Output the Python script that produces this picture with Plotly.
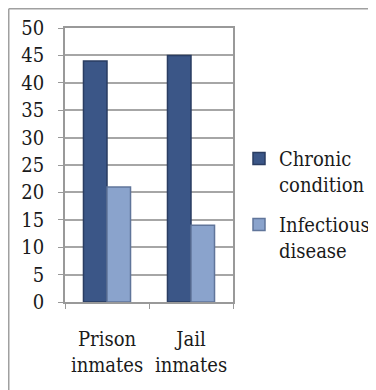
import plotly.graph_objects as go

categories = ["Prison<br>inmates", "Jail<br>inmates"]
chronic = [44, 45]
infectious = [21, 14]
series_names = ["Chronic<br>condition", "Infectious<br>disease"]
y_ticks = list(range(0, 51, 5))

# page has an 8px body margin; work in figure coordinates (reference - 8)
W, H = 376, 390
L, T = 57, 20
PX1, PY1 = 225, 294
R, B = W - PX1, H - PY1
pw, ph = PX1 - L, PY1 - T

SERIF = "DejaVu Serif Condensed, DejaVu Serif, serif"

fig = go.Figure()
fig.add_trace(go.Bar(x=categories, y=chronic, name=series_names[0], legendgroup="a",
                     marker=dict(color="#3B5687", line=dict(color="#2A3D62", width=1.5))))
fig.add_trace(go.Bar(x=categories, y=infectious, name=series_names[1], legendgroup="b",
                     marker=dict(color="#8AA3CC", line=dict(color="#60759A", width=1.5))))

fig.update_layout(
    width=W, height=H,
    margin=dict(l=L, r=R, t=T, b=B, autoexpand=False),
    paper_bgcolor="white", plot_bgcolor="white",
    font=dict(family=SERIF, size=20, color="#1a1a1a"),
    barmode="group", bargap=0.44, bargroupgap=0,
    showlegend=True,
    legend=dict(x=(231 - L) / pw, y=(PY1 - 131) / ph, xanchor="left", yanchor="top",
                valign="top", traceorder="grouped", tracegroupgap=11,
                font=dict(family=SERIF, size=20), bgcolor="rgba(0,0,0,0)"),
    xaxis=dict(showgrid=False, ticks="outside", tickson="boundaries", ticklen=5,
               tickcolor="#999999", showline=True, linecolor="#999999", linewidth=1.5,
               mirror=True, ticklabelstandoff=18, tickangle=0, automargin=False),
    yaxis=dict(range=[0, 50], tickvals=y_ticks, showgrid=True, gridcolor="#A6A6A6",
               gridwidth=1.5, ticks="outside", ticklen=5, tickcolor="#999999",
               showline=True, linecolor="#999999", linewidth=1.5, mirror=True,
               zeroline=False, ticklabelstandoff=10, automargin=False),
)

# outer chart frame (top and left edges visible at the page corner)
x0 = (0.75 - L) / pw
y0 = (PY1 - 0.75) / ph
fig.add_shape(type="line", xref="paper", yref="paper", x0=x0, x1=(W + 10 - L) / pw,
              y0=y0, y1=y0, line=dict(color="#A0A0A0", width=1.5))
fig.add_shape(type="line", xref="paper", yref="paper", x0=x0, x1=x0,
              y0=y0, y1=-(B + 10) / ph, line=dict(color="#A0A0A0", width=1.5))

fig.write_html("out.html")
